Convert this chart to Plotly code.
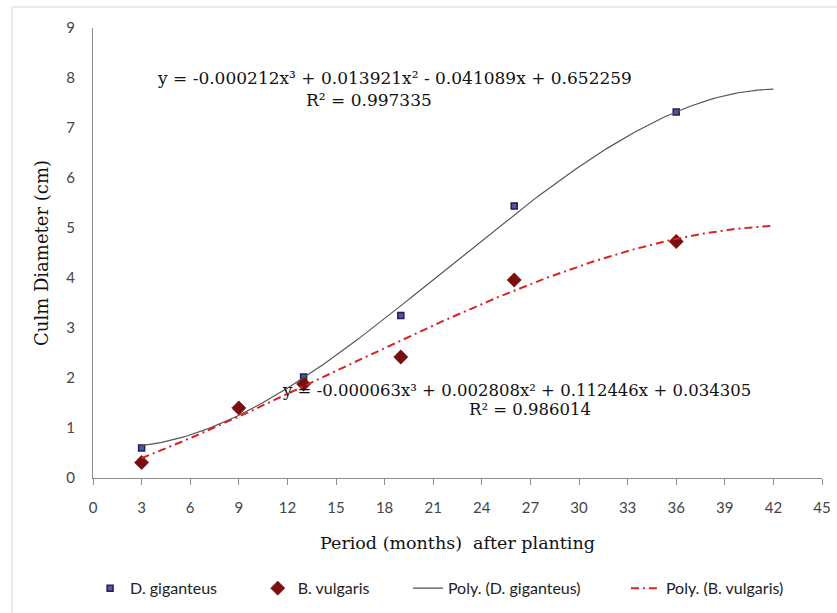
import numpy as np
import plotly.graph_objects as go

# Observed culm diameter (cm) by months after planting
months_dg = [3, 13, 19, 26, 36]
diam_dg = [0.60, 2.02, 3.25, 5.44, 7.32]

months_bv = [3, 9, 13, 19, 26, 36]
diam_bv = [0.31, 1.40, 1.88, 2.42, 3.96, 4.73]

# Cubic trendline coefficients (highest power first) and fit quality
coef_dg = [-0.000212, 0.013921, -0.041089, 0.652259]
r2_dg = 0.997335
coef_bv = [-0.000063, 0.002808, 0.112446, 0.034305]
r2_bv = 0.986014

trend_start, trend_end = 3, 42
xticks = list(range(0, 46, 3))
yticks = list(range(0, 10))

xs = np.linspace(trend_start, trend_end, 200)


def eq_text(c):
    def term(v, first=False):
        s = "-" if v < 0 else ("" if first else "+")
        return s, f"{abs(v):.6f}"
    parts = []
    sign, val = term(c[0], True)
    parts.append(f"y = {sign}{val}x³")
    sign, val = term(c[1])
    parts.append(f" {sign} {val}x²")
    sign, val = term(c[2])
    parts.append(f" {sign} {val}x")
    sign, val = term(c[3])
    parts.append(f" {sign} {val}")
    return "".join(parts)


fig = go.Figure()

# each series gets its own legend box so the entries sit at fixed spots
fig.add_trace(go.Scatter(
    x=months_dg, y=diam_dg, mode="markers", name="D. giganteus",
    legend="legend",
    marker=dict(symbol="square", size=6, color="#55579A",
                line=dict(color="#1E1F5C", width=1.5)),
))
fig.add_trace(go.Scatter(
    x=months_bv, y=diam_bv, mode="markers", name="B. vulgaris",
    legend="legend2",
    marker=dict(symbol="diamond", size=11, color="#7A0F0F",
                line=dict(color="#6A0A0A", width=0.5)),
))
fig.add_trace(go.Scatter(
    x=xs, y=np.polyval(coef_dg, xs), mode="lines", name="Poly. (D. giganteus)",
    legend="legend3",
    line=dict(color="#555555", width=1.2),
))
fig.add_trace(go.Scatter(
    x=xs, y=np.polyval(coef_bv, xs), mode="lines", name="Poly. (B. vulgaris)",
    legend="legend4",
    line=dict(color="#D92323", width=2, dash="8px,4px,2px,4px"),
))

serif = "DejaVu Serif"
font_eq1 = dict(family=serif, size=17, color="#111111")
font_eq2 = dict(family=serif, size=16.5, color="#111111")
annotations = [
    dict(x=18.6, y=8.0, text=eq_text(coef_dg), font=font_eq1),
    dict(x=17.05, y=7.56, text=f"R² = {r2_dg:.6f}", font=font_eq1),
    dict(x=26.15, y=1.76, text=eq_text(coef_bv), font=font_eq2),
    dict(x=27.0, y=1.38, text=f"R² = {r2_bv:.6f}", font=font_eq2),
]
for a in annotations:
    a.update(xref="x", yref="y", showarrow=False, xanchor="center",
             yanchor="middle")

legend_font = dict(family="Lato", size=16, color="#222222")


def legend_box(xpos):
    return dict(orientation="h", x=xpos, xanchor="left", y=-0.245,
                yanchor="middle", font=legend_font,
                bgcolor="rgba(0,0,0,0)")


fig.update_layout(
    width=837, height=613,
    margin=dict(l=93, r=15, t=28, b=135, autoexpand=False),
    paper_bgcolor="white", plot_bgcolor="white",
    showlegend=True,
    legend=legend_box(-0.004),
    legend2=legend_box(0.226),
    legend3=legend_box(0.432),
    legend4=legend_box(0.731),
    annotations=annotations,
    shapes=[dict(type="rect", xref="paper", yref="paper",
                 x0=-0.111, x1=1.03, y0=-0.32, y1=1.0467,
                 line=dict(color="#D9D9D9", width=1), layer="below")],
)

fig.update_xaxes(
    range=[0, 45], tickvals=xticks, showgrid=False, zeroline=False,
    showline=True, linecolor="#8C8C8C", linewidth=1,
    ticks="outside", ticklen=6, tickcolor="#8C8C8C",
    ticklabelstandoff=10,
    tickfont=dict(family="Lato", size=15, color="#444444"),
    title=dict(text="Period (months)  after planting",
               font=dict(family=serif, size=17.5, color="#111111"),
               standoff=21),
)
fig.update_yaxes(
    range=[0, 9], tickvals=yticks, showgrid=False, zeroline=False,
    showline=True, linecolor="#8C8C8C", linewidth=1, ticks="",
    ticklabelstandoff=14,
    tickfont=dict(family="Lato", size=15, color="#444444"),
    title=dict(text="Culm Diameter (cm)",
               font=dict(family=serif, size=18, color="#111111"),
               standoff=12),
)

fig.write_html("out.html")
